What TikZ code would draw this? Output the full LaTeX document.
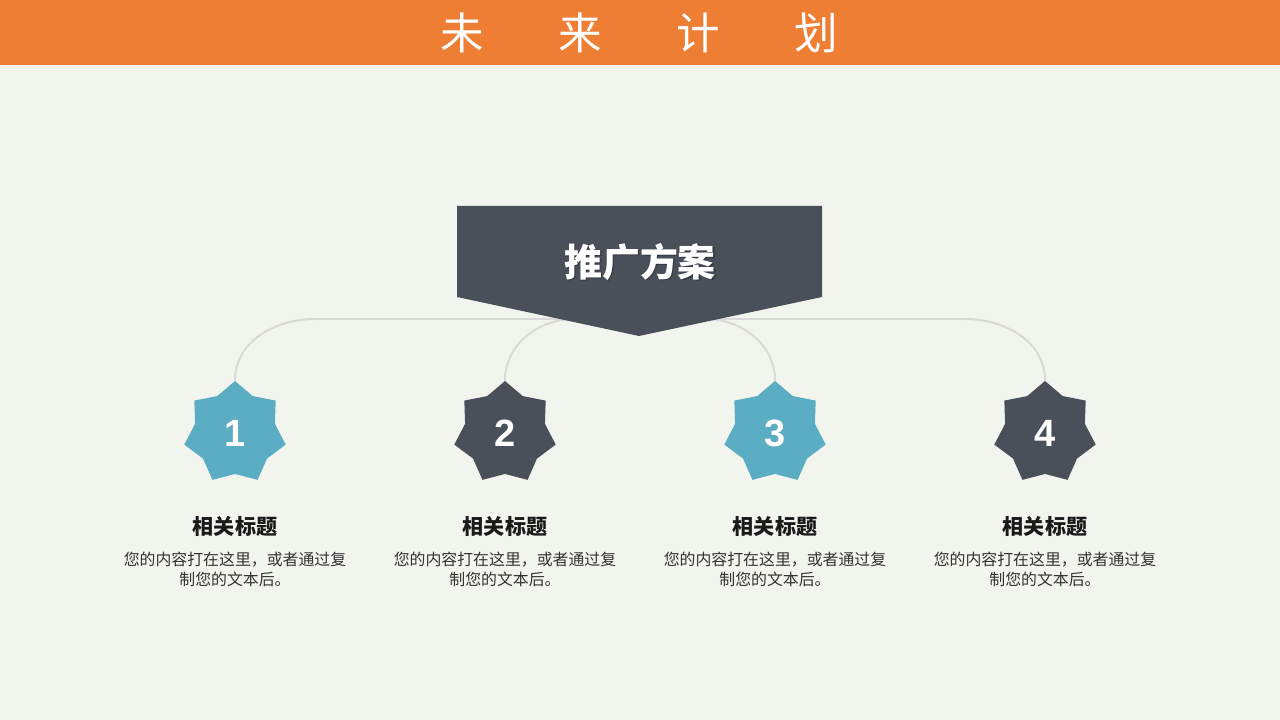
\documentclass[tikz,border=0pt]{standalone}
\usepackage{fontspec}
\setmainfont{Noto Sans CJK SC}
\newfontfamily\numfont{Liberation Sans}
\usetikzlibrary{shapes,arrows.meta,calc,positioning}
\definecolor{bgcol}{HTML}{F2F4EE}
\definecolor{orangebar}{HTML}{EE7E33}
\definecolor{slate}{HTML}{4A505A}
\definecolor{tealstar}{HTML}{5AADC3}
\definecolor{linegray}{HTML}{D9D9D7}
\definecolor{textdark}{HTML}{1A1A1A}
\definecolor{textgray}{HTML}{333333}

\tikzset{
  badge/.style={star, star points=7, star point ratio=1.27, minimum size=2.6cm, inner sep=0pt,
    text=white, font=\numfont\bfseries\fontsize{27}{27}\selectfont},
  branch/.style={draw=linegray, line width=1.4pt},
  heading/.style={text=textdark, font=\bfseries\fontsize{15}{18}\selectfont},
  blurb/.style={text=textgray, align=center, font=\fontsize{11.3}{14.2}\selectfont},
}

\begin{document}
\begin{tikzpicture}[x=0.025cm,y=-0.025cm]
        \fill[bgcol] (0,0) rectangle (1280,720);
        \fill[orangebar] (0,0) rectangle (1280,65);
        \node[text=white, font=\fontsize{31}{31}\selectfont] (title) at (639,33)
          {未\hspace{53pt}来\hspace{53pt}计\hspace{53pt}划};
        % the four steps
        \foreach \i/\x/\c in {1/235/tealstar,2/505/slate,3/775/tealstar,4/1045/slate}{
          \node[badge, fill=\c] (s\i) at (\x,433) {\i};
          \node[heading] (h\i) at (\x,526) {相关标题};
          \node[blurb] (b\i) at (\x,569) {您的内容打在这里，或者通过复\\制您的文本后。};
        }
        \coordinate (j1) at (315,319);
        \coordinate (j2) at (575,319);
        \coordinate (j3) at (705,319);
        \coordinate (j4) at (965,319);
        \draw[branch] (s1.north) to[out=90,in=180] (j1) -- (j4) to[out=0,in=90] (s4.north);
        \draw[branch] (s2.north) to[out=90,in=180] (j2);
        \draw[branch] (j3) to[out=0,in=90] (s3.north);
        % banner
        \fill[slate] (457,206) -- (822,206) -- (822,297) -- (639,336) -- (457,297) -- cycle;
        \node[text=black, opacity=.3, font=\bfseries\fontsize{27}{27}\selectfont] (planshadow) at (641.5,263.5) {推广方案};
        \node[text=white, font=\bfseries\fontsize{27}{27}\selectfont] (plan) at (640,262) {推广方案};
      \end{tikzpicture}
\end{document}
